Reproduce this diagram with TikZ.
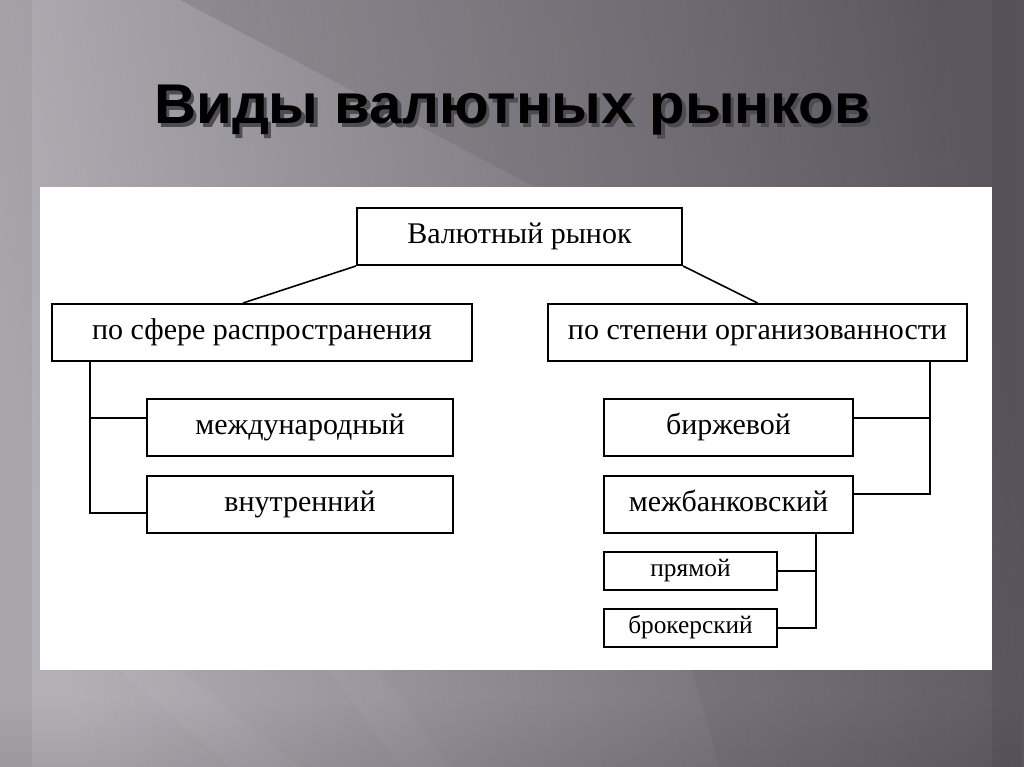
\documentclass[tikz,border=0pt]{standalone}
\usepackage{fontspec}
\setmainfont{Liberation Serif}
\newfontfamily\titlefont{Liberation Sans}
\usetikzlibrary{calc,fadings}
\definecolor{bgL}{HTML}{B2AFB5}
\definecolor{bgR}{HTML}{5C5860}
\definecolor{shadowc}{HTML}{4E4B51}
\newcommand{\titletext}{Виды валютных рынков}
\begin{document}
\begin{tikzpicture}[x=0.75pt,y=-0.75pt,
  box/.style={draw=black,line width=1.5pt,fill=white,inner sep=0pt,minimum height=42.75pt,
    text height=14pt,text depth=4.2pt,font=\fontsize{22.5}{26}\selectfont},
  smallbox/.style={box,minimum height=28.5pt,text height=12pt,text depth=3.6pt,font=\fontsize{19}{22}\selectfont},
  link/.style={draw=black,line width=1.5pt},
  slant/.style={draw=black,line width=1.2pt},
  ttl/.style={anchor=base,inner sep=0pt,xscale=1.04,font=\titlefont\bfseries\fontsize{42}{50}\selectfont}]
\useasboundingbox (0,0) rectangle (1024,767);
% background
\shade[left color=bgL,right color=bgR,shading angle=100] (0,0) rectangle (1024,767);
\fill[black,opacity=0.10,path fading=east] (180,0) -- (1024,0) -- (1024,767) -- (720,767) -- (560,200) -- cycle;
\fill[black,opacity=0.05] (0,0) rectangle (32,767);
\fill[black,opacity=0.06] (992,0) rectangle (1024,767);
\fill[white,opacity=0.04] (120,670) -- (180,670) -- (300,767) -- (230,767) -- cycle;
\fill[white,opacity=0.035] (330,670) -- (380,670) -- (450,767) -- (400,767) -- cycle;
\fill[black,opacity=0.08,path fading=north] (0,700) rectangle (1024,767);
% title (with its shadow in the same node)
\node[ttl,text=black] (title) at (512,123)
  {\makebox[0pt][l]{\hspace{2.5pt}\raisebox{-3.5pt}{\textcolor{shadowc}{\titletext}}}\titletext};
% panel
\fill[white] (40,187) rectangle (992,670);
% nodes
\node[box,minimum width=243.75pt] (top) at (519.5,236.5) {Валютный рынок};
\node[box,minimum width=315pt] (sfera) at (262,332.5) {по сфере распространения};
\node[box,minimum width=314.25pt] (stepen) at (757.5,332.5) {по степени организованности};
\node[box,minimum width=229.5pt] (mezhd) at (300,427.5) {международный};
\node[box,minimum width=229.5pt] (vnutr) at (300,504.5) {внутренний};
\node[box,minimum width=186.75pt] (birzh) at (728.5,427.5) {биржевой};
\node[box,minimum width=186.75pt] (mezhb) at (728.5,504.5) {межбанковский};
\node[smallbox,minimum width=129.75pt] (pryam) at (690.5,571) {прямой};
\node[smallbox,minimum width=129.75pt] (brok) at (690.5,628) {брокерский};
% connectors
\draw[slant] (top.south west) -- ([xshift=-14.25pt]sfera.north);
\draw[slant] (top.south east) -- (stepen.north);
\draw[link] ([xshift=29.25pt]sfera.south west) |- ([yshift=-6.4pt]vnutr.west);
\draw[link] ([yshift=7.1pt]mezhd.west) -- ++(-42pt,0);
\draw[link] ([xshift=-28.5pt]stepen.south east) |- ([yshift=7.9pt]mezhb.east);
\draw[link] ([yshift=7.1pt]birzh.east) -- ++(57pt,0);
\draw[link] ([xshift=-28.5pt]mezhb.south east) |- (brok.east);
\draw[link] (pryam.east) -- ++(28.5pt,0);
\end{tikzpicture}
\end{document}
